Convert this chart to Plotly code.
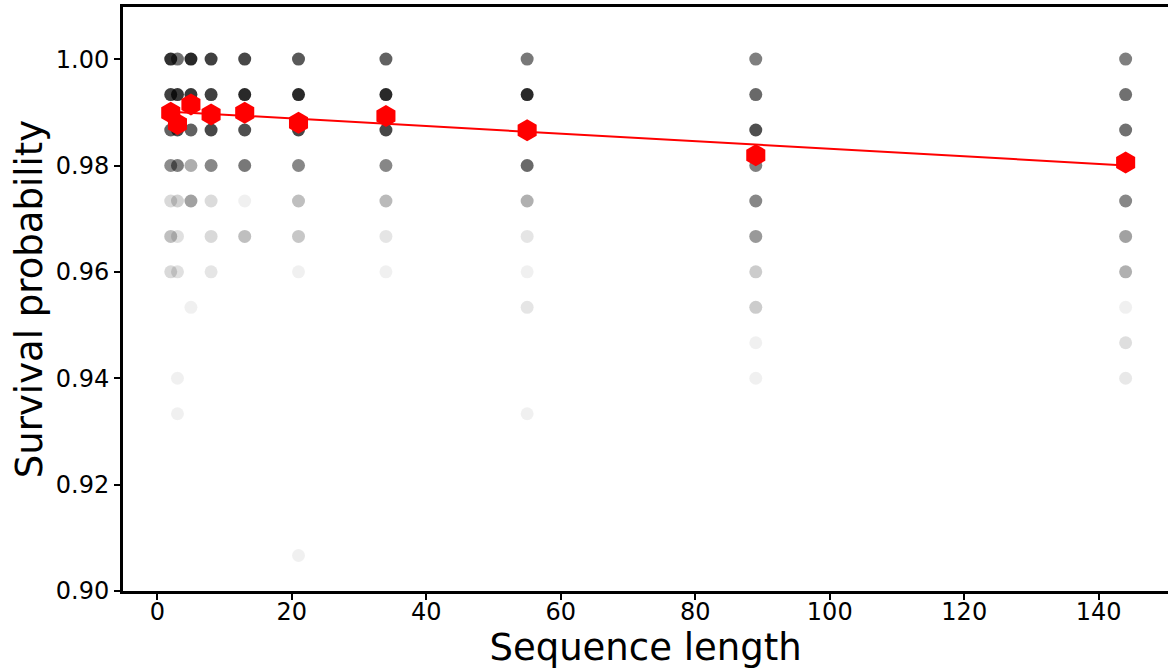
import plotly.graph_objects as go

# longitudes de secuencia (Fibonacci) y niveles de supervivencia observados
lengths = [2, 3, 5, 8, 13, 21, 34, 55, 89, 144]

obs_y = {
    2: [1.0, 0.99333, 0.98667, 0.98, 0.97333, 0.96667, 0.96],
    3: [1.0, 0.99333, 0.98667, 0.98, 0.97333, 0.96667, 0.96, 0.94, 0.93333],
    5: [1.0, 0.99333, 0.98667, 0.98, 0.97333, 0.95333],
    8: [1.0, 0.99333, 0.98667, 0.98, 0.97333, 0.96667, 0.96],
    13: [1.0, 0.99333, 0.98667, 0.98, 0.97333, 0.96667],
    21: [1.0, 0.99333, 0.98667, 0.98, 0.97333, 0.96667, 0.96, 0.90667],
    34: [1.0, 0.99333, 0.98667, 0.98, 0.97333, 0.96667, 0.96],
    55: [1.0, 0.99333, 0.98667, 0.98, 0.97333, 0.96667, 0.96, 0.95333, 0.93333],
    89: [1.0, 0.99333, 0.98667, 0.98, 0.97333, 0.96667, 0.96, 0.95333, 0.94667, 0.94],
    144: [1.0, 0.99333, 0.98667, 0.98, 0.97333, 0.96667, 0.96, 0.95333, 0.94667, 0.94],
}

# opacidad de cada punto (frecuencia relativa)
obs_alpha = {
    2: [0.81, 0.75, 0.62, 0.45, 0.15, 0.25, 0.15],
    3: [0.56, 0.78, 0.70, 0.50, 0.18, 0.12, 0.12, 0.06, 0.06],
    5: [0.84, 0.78, 0.62, 0.32, 0.37, 0.06],
    8: [0.75, 0.75, 0.72, 0.47, 0.14, 0.15, 0.10],
    13: [0.72, 0.84, 0.69, 0.53, 0.06, 0.25],
    21: [0.65, 0.84, 0.72, 0.47, 0.25, 0.22, 0.06, 0.06],
    34: [0.62, 0.84, 0.72, 0.47, 0.27, 0.10, 0.06],
    55: [0.53, 0.84, 0.60, 0.59, 0.31, 0.10, 0.06, 0.10, 0.06],
    89: [0.50, 0.59, 0.69, 0.50, 0.47, 0.40, 0.20, 0.20, 0.06, 0.06],
    144: [0.50, 0.56, 0.56, 0.50, 0.47, 0.37, 0.31, 0.06, 0.13, 0.09],
}

# promedio por longitud
mean_y = [0.98991, 0.98778, 0.99148, 0.98960, 0.98991,
          0.98803, 0.98929, 0.98665, 0.98195, 0.98058]

# recta ajustada
fit_x = [2, 144]
fit_y = [0.99012, 0.98002]

dot_x, dot_y, dot_color = [], [], []
for L in lengths:
    for yv, a in zip(obs_y[L], obs_alpha[L]):
        dot_x.append(L)
        dot_y.append(yv)
        dot_color.append(f"rgba(0,0,0,{a})")

fig = go.Figure()

fig.add_trace(go.Scatter(
    x=dot_x, y=dot_y, mode="markers",
    marker=dict(size=13, color=dot_color, line=dict(width=0)),
    showlegend=False,
))

fig.add_trace(go.Scatter(
    x=fit_x, y=fit_y, mode="lines",
    line=dict(color="red", width=2),
    showlegend=False,
))

fig.add_trace(go.Scatter(
    x=lengths, y=mean_y, mode="markers",
    marker=dict(symbol="hexagon", size=22, color="red", line=dict(width=0)),
    showlegend=False,
))

axis_font = dict(family="DejaVu Sans", size=24, color="black")

fig.update_layout(
    width=1168, height=669,
    plot_bgcolor="white", paper_bgcolor="white",
    margin=dict(l=123, r=0, t=7, b=78),
    font=dict(family="DejaVu Sans", color="black"),
    xaxis=dict(
        range=[-5.1, 150.3],
        tickmode="array", tickvals=[0, 20, 40, 60, 80, 100, 120, 140],
        showgrid=False, zeroline=False,
        showline=True, linecolor="black", linewidth=3, mirror=True,
        ticks="outside", ticklen=6, tickwidth=1.5, tickcolor="black",
        tickfont=axis_font, ticklabelstandoff=-9,
        title=dict(text="Sequence length", font=dict(family="DejaVu Sans", size=37), standoff=10),
    ),
    yaxis=dict(
        range=[0.9, 1.0098],
        tickmode="array", tickvals=[0.90, 0.92, 0.94, 0.96, 0.98, 1.00],
        tickformat=".2f",
        showgrid=False, zeroline=False,
        showline=True, linecolor="black", linewidth=3, mirror=False,
        ticks="outside", ticklen=6, tickwidth=1.5, tickcolor="black",
        tickfont=axis_font,
        title=dict(text="Survival probability", font=dict(family="DejaVu Sans", size=37), standoff=2),
    ),
)

fig.write_html("out.html", config={"displayModeBar": False},
               post_script="document.body.style.margin='0';")
